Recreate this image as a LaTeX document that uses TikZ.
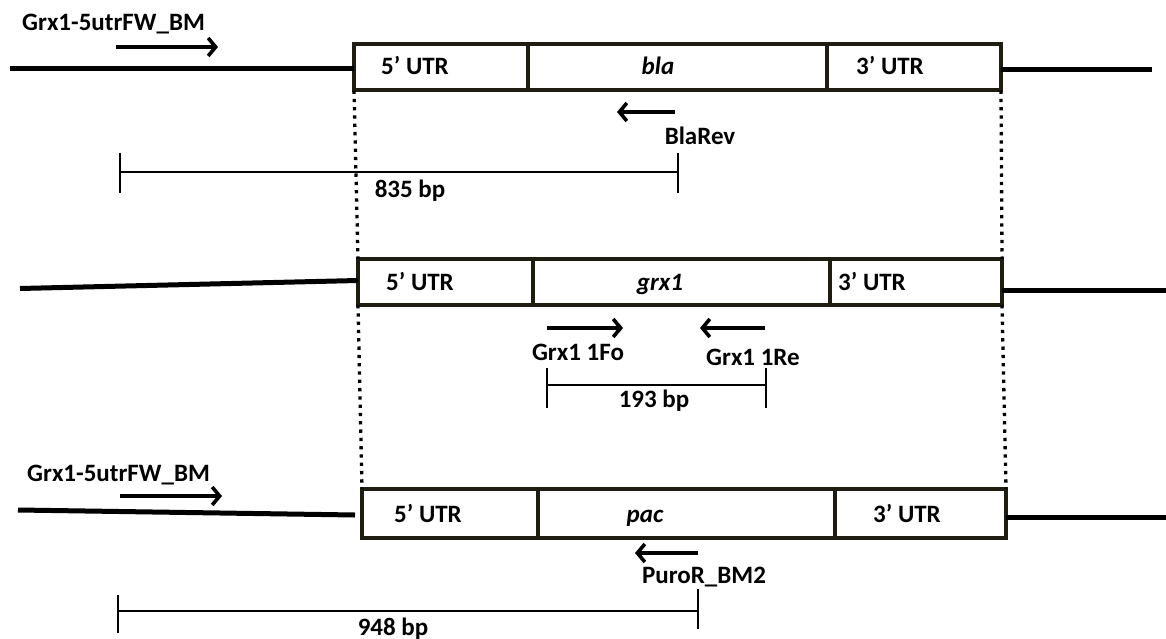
\documentclass[tikz,border=0pt]{standalone}
\usepackage{fontspec}
\setmainfont{Carlito}
\usetikzlibrary{arrows.meta}
\definecolor{boxcol}{HTML}{1F1C12}
\tikzset{
  x=1pt, y=-1pt,
  backbone/.style={line width=5pt, black},
  seg/.style={draw=boxcol, line width=4pt, rectangle, inner sep=0pt, outer sep=0pt, minimum height=#1},
  seg/.default=46pt,
  primer/.style={line width=3.6pt, -{Straight Barb[length=7.5pt,width=18pt,line width=3.6pt]}},
  dimline/.style={line width=1.6pt},
  guide/.style={line width=3.3pt, dash pattern=on 3.3pt off 5pt, black},
  lbl/.style={font=\fontsize{25}{28}\selectfont\bfseries, inner sep=0pt, anchor=base},
  seglbl/.style={font=\fontsize{25}{28}\selectfont\bfseries, inner sep=0pt, anchor=base},
}
\begin{document}
\begin{tikzpicture}
\useasboundingbox (0,0) rectangle (1166,639);
\fill[white] (0,0) rectangle (1166,639);

% ---------- Row 1 ----------
\node[seg, minimum width=174pt] (r1a) at (441,67.5) {};
\node[seg, minimum width=299pt] (r1b) at (677.5,67.5) {};
\node[seg, minimum width=174pt] (r1c) at (914,67.5) {};
\node[seglbl] (t1a) at (415,75) {5’ UTR};
\node[seglbl] (t1b) at (658,75) {\itshape bla};
\node[seglbl] (t1c) at (890,75) {3’ UTR};
\coordinate (L1) at (10,69);
\coordinate (R1) at (1152,70);
\draw[backbone] (L1) -- ([yshift=-1.5pt]r1a.west);
\draw[backbone] (r1c.east |- R1) -- (R1);

\coordinate (p1s) at (116,47);
\coordinate (p1e) at (218,47);
\draw[primer] (p1s) -- (p1e);
\node[lbl, anchor=base west] (n1) at (22,31) {Grx1-5utrFW\_BM};

\coordinate (b1s) at (675,112);
\coordinate (b1e) at (617,112);
\draw[primer] (b1s) -- (b1e);
\node[lbl] (n2) at (700,145) {BlaRev};

\coordinate (d1a) at (120,172);
\coordinate (d1b) at (678,172);
\draw[dimline] (d1a) -- (d1b);
\draw[dimline] ([yshift=19pt]d1a) -- ([yshift=-21pt]d1a);
\draw[dimline] ([yshift=19pt]d1b) -- ([yshift=-21pt]d1b);
\node[lbl] (n3) at (410,197) {835 bp};

% ---------- Row 2 ----------
\node[seg, minimum width=175pt] (r2a) at (445.5,282) {};
\node[seg, minimum width=297pt] (r2b) at (681.5,282) {};
\node[seg, minimum width=172pt] (r2c) at (916,282) {};
\node[seglbl] (t2a) at (420,290) {5’ UTR};
\node[seglbl] (t2b) at (660,290) {\itshape grx1};
\node[seglbl] (t2c) at (872,290) {3’ UTR};
\coordinate (L2) at (20,288.5);
\coordinate (R2) at (1166,290);
\draw[backbone] (L2) -- ([yshift=1.5pt]r2a.west);
\draw[backbone] (r2c.east |- R2) -- (R2);

\draw[guide] (r1a.south west) -- (r2a.north west);
\draw[guide] (r1c.south east) -- (r2c.north east);

\coordinate (f2s) at (547,328);
\coordinate (f2e) at (623,328);
\draw[primer] (f2s) -- (f2e);
\coordinate (g2s) at (765,328);
\coordinate (g2e) at (700,328);
\draw[primer] (g2s) -- (g2e);
\node[lbl] (n4) at (578,360) {Grx1 1Fo};
\node[lbl] (n5) at (753,365) {Grx1 1Re};

\coordinate (d2a) at (547,385);
\coordinate (d2b) at (766,385);
\draw[dimline] (d2a) -- (d2b);
\draw[dimline] ([yshift=17pt]d2a) -- ([yshift=-23pt]d2a);
\draw[dimline] ([yshift=17pt]d2b) -- ([yshift=-23pt]d2b);
\node[lbl] (n6) at (654,407) {193 bp};

% ---------- Row 3 ----------
\node[seg, minimum width=176pt, minimum height=49pt] (r3a) at (450,513) {};
\node[seg, minimum width=297pt, minimum height=49pt] (r3b) at (686.5,513) {};
\node[seg, minimum width=171pt, minimum height=49pt] (r3c) at (920.5,513) {};
\node[seglbl] (t3a) at (428,522) {5’ UTR};
\node[seglbl] (t3b) at (645,522) {\itshape pac};
\node[seglbl] (t3c) at (907,522) {3’ UTR};
\coordinate (L3) at (18,510);
\coordinate (R3) at (1166,517);
\draw[backbone] (L3) -- ([xshift=-7pt,yshift=-2pt]r3a.west);
\draw[backbone] (r3c.east |- R3) -- (R3);

\draw[guide] (r2a.south west) -- (r3a.north west);
\draw[guide] (r2c.south east) -- (r3c.north east);

\coordinate (p3s) at (120,496);
\coordinate (p3e) at (222,496);
\draw[primer] (p3s) -- (p3e);
\node[lbl, anchor=base west] (n7) at (27,481) {Grx1-5utrFW\_BM};

\coordinate (q3s) at (698,553);
\coordinate (q3e) at (635,553);
\draw[primer] (q3s) -- (q3e);
\node[lbl] (n8) at (704,583) {PuroR\_BM2};

\coordinate (d3a) at (118,611);
\coordinate (d3b) at (698,611);
\draw[dimline] (d3a) -- (d3b);
\draw[dimline] ([yshift=16pt]d3a) -- ([yshift=-22pt]d3a);
\draw[dimline] ([yshift=22pt]d3b) -- ([yshift=-18pt]d3b);
\node[lbl] (n9) at (393,635) {948 bp};
\end{tikzpicture}
\end{document}
